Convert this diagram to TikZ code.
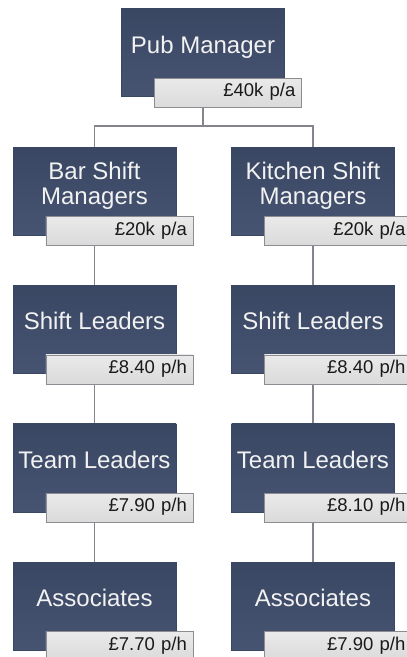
\documentclass[tikz,border=0pt]{standalone}
\usepackage{fontspec}
\setmainfont{Liberation Sans}
\usetikzlibrary{positioning, backgrounds}
\definecolor{boxtop}{RGB}{58,71,99}
\definecolor{boxbottom}{RGB}{70,84,114}
\definecolor{paytop}{RGB}{234,234,234}
\definecolor{paybottom}{RGB}{218,218,218}
\definecolor{payline}{RGB}{140,140,146}
\definecolor{linkline}{RGB}{132,132,140}
\tikzstyle{role} = [rectangle, minimum width=163pt, minimum height=88pt, inner sep=0pt,
 top color=boxtop, bottom color=boxbottom, draw=boxtop, line width=0.4pt,
 text=white!95!black, align=center, text depth=16.3pt, font=\fontsize{24}{25}\selectfont]
\tikzstyle{pay} = [rectangle, minimum height=29pt, inner xsep=6pt, inner ysep=0pt,
 text width=135pt, align=right, top color=paytop, bottom color=paybottom,
 draw=payline, line width=0.7pt, text=black!90, text height=13pt, text depth=5pt,
 font=\fontsize{18.5}{20}\selectfont]
\tikzstyle{link} = [draw=linkline, line width=1.5pt]

\begin{document}
\begin{tikzpicture}[x=1pt, y=1pt]
\useasboundingbox (0,0) rectangle (407,-657);

\node (PUB_MANAGER) [role] at (203,-52.5) {Pub Manager};
\node (BAR_SHIFT_MANAGERS) [role] at (94.5,-191) {Bar Shift\\Managers};
\node (KITCHEN_SHIFT_MANAGERS) [role] at (313,-191) {Kitchen Shift\\Managers};

\node (BAR_SHIFT_LEADERS) [role, below=50pt of BAR_SHIFT_MANAGERS] {Shift Leaders};
\node (BAR_TEAM_LEADERS) [role, below=50pt of BAR_SHIFT_LEADERS] {Team Leaders};
\node (BAR_ASSOCIATES) [role, below=50pt of BAR_TEAM_LEADERS] {Associates};

\node (KITCHEN_SHIFT_LEADERS) [role, below=50pt of KITCHEN_SHIFT_MANAGERS] {Shift Leaders};
\node (KITCHEN_TEAM_LEADERS) [role, below=50pt of KITCHEN_SHIFT_LEADERS] {Team Leaders};
\node (KITCHEN_ASSOCIATES) [role, below=50pt of KITCHEN_TEAM_LEADERS] {Associates};

\node (PUB_MANAGER_PAY) [pay, below left=-19pt and -17pt of PUB_MANAGER.south east] {\pounds40k p/a};
\node (BAR_SHIFT_MANAGERS_PAY) [pay, below left=-19pt and -17pt of BAR_SHIFT_MANAGERS.south east] {\pounds20k p/a};
\node (KITCHEN_SHIFT_MANAGERS_PAY) [pay, below left=-19pt and -17pt of KITCHEN_SHIFT_MANAGERS.south east] {\pounds20k p/a};
\node (BAR_SHIFT_LEADERS_PAY) [pay, below left=-19pt and -17pt of BAR_SHIFT_LEADERS.south east] {\pounds8.40 p/h};
\node (KITCHEN_SHIFT_LEADERS_PAY) [pay, below left=-19pt and -17pt of KITCHEN_SHIFT_LEADERS.south east] {\pounds8.40 p/h};
\node (BAR_TEAM_LEADERS_PAY) [pay, below left=-19pt and -17pt of BAR_TEAM_LEADERS.south east] {\pounds7.90 p/h};
\node (KITCHEN_TEAM_LEADERS_PAY) [pay, below left=-19pt and -17pt of KITCHEN_TEAM_LEADERS.south east] {\pounds8.10 p/h};
\node (BAR_ASSOCIATES_PAY) [pay, below left=-19pt and -17pt of BAR_ASSOCIATES.south east] {\pounds7.70 p/h};
\node (KITCHEN_ASSOCIATES_PAY) [pay, below left=-19pt and -17pt of KITCHEN_ASSOCIATES.south east] {\pounds7.90 p/h};

\begin{scope}[on background layer]
\draw [link] (PUB_MANAGER) -- ++(0,-73.5) -| (BAR_SHIFT_MANAGERS);
\draw [link] (PUB_MANAGER) -- ++(0,-73.5) -| (KITCHEN_SHIFT_MANAGERS);

\draw [link] (BAR_SHIFT_MANAGERS) -- (BAR_SHIFT_LEADERS);
\draw [link] (BAR_SHIFT_LEADERS) -- (BAR_TEAM_LEADERS);
\draw [link] (BAR_TEAM_LEADERS) -- (BAR_ASSOCIATES);

\draw [link] (KITCHEN_SHIFT_MANAGERS) -- (KITCHEN_SHIFT_LEADERS);
\draw [link] (KITCHEN_SHIFT_LEADERS) -- (KITCHEN_TEAM_LEADERS);
\draw [link] (KITCHEN_TEAM_LEADERS) -- (KITCHEN_ASSOCIATES);
\end{scope}

\end{tikzpicture}
\end{document}
